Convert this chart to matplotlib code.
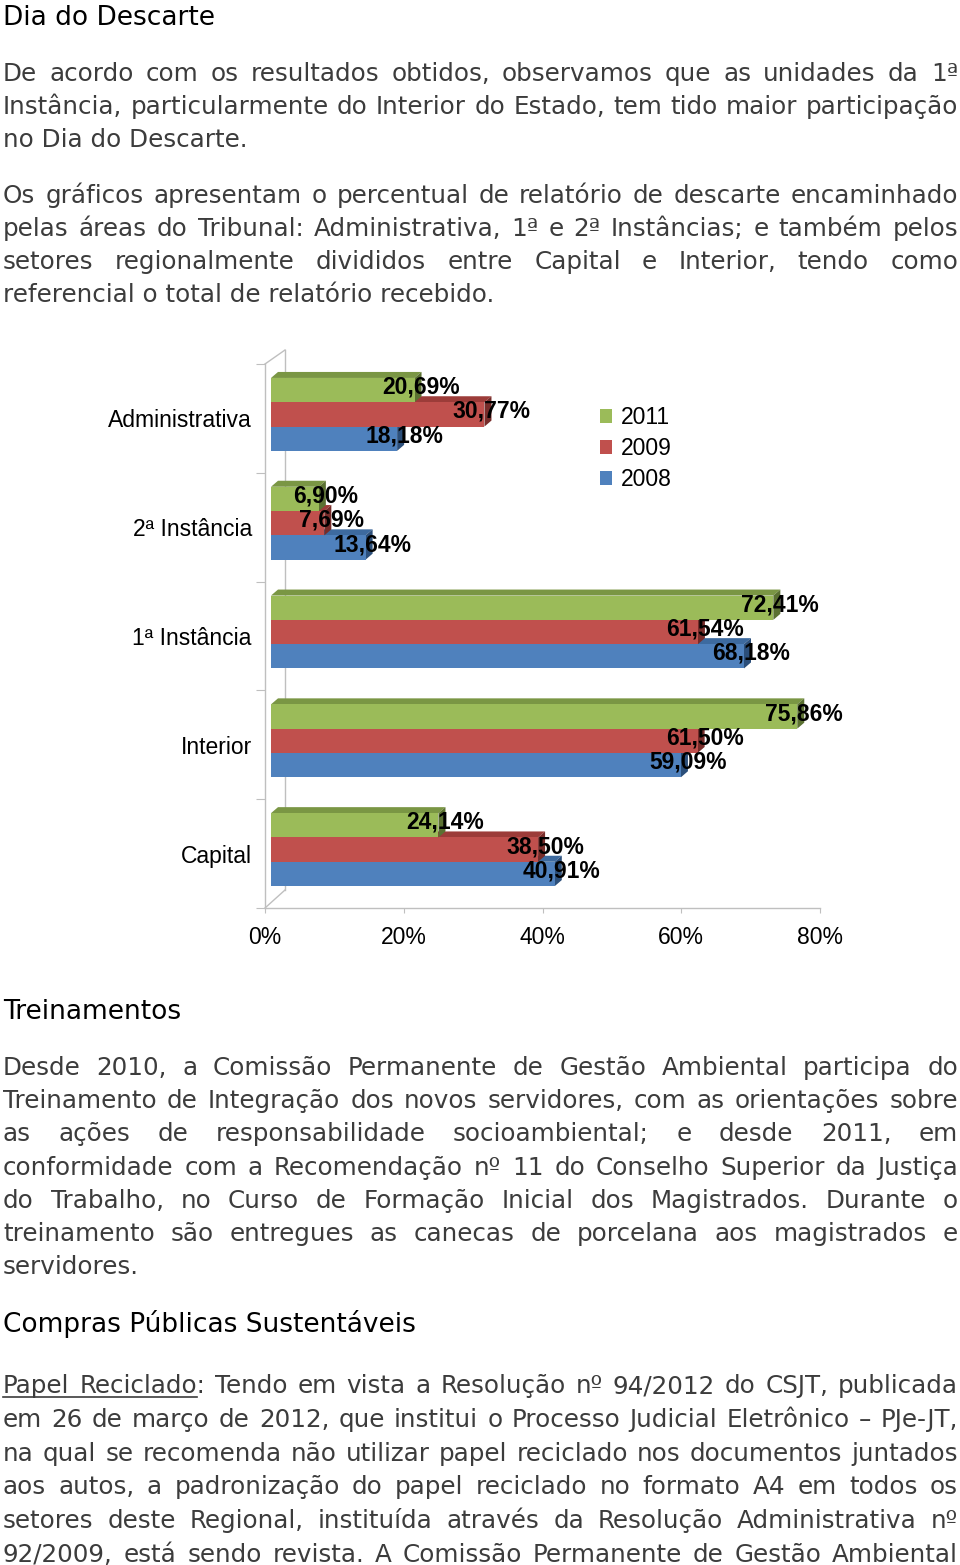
import matplotlib
matplotlib.use('Agg')
import matplotlib.pyplot as plt
from matplotlib.patches import Polygon, Patch

# chart data
categories = ['Administrativa', '2ª Instância', '1ª Instância', 'Interior', 'Capital']
years = ['2011', '2009', '2008']
v2011 = [20.69, 6.90, 72.41, 75.86, 24.14]
v2009 = [30.77, 7.69, 61.54, 61.50, 38.50]
v2008 = [18.18, 13.64, 68.18, 59.09, 40.91]
xticks = [0, 20, 40, 60, 80]

# page text
title1 = 'Dia do Descarte'
par1 = ['De acordo com os resultados obtidos, observamos que as unidades da 1ª',
        'Instância, particularmente do Interior do Estado, tem tido maior participação',
        'no Dia do Descarte.']
par2 = ['Os gráficos apresentam o percentual de relatório de descarte encaminhado',
        'pelas áreas do Tribunal: Administrativa, 1ª e 2ª Instâncias; e também pelos',
        'setores regionalmente divididos entre Capital e Interior, tendo como',
        'referencial o total de relatório recebido.']
title2 = 'Treinamentos'
par3 = ['Desde 2010, a Comissão Permanente de Gestão Ambiental participa do',
        'Treinamento de Integração dos novos servidores, com as orientações sobre',
        'as ações de responsabilidade socioambiental; e desde 2011, em',
        'conformidade com a Recomendação nº 11 do Conselho Superior da Justiça',
        'do Trabalho, no Curso de Formação Inicial dos Magistrados. Durante o',
        'treinamento são entregues as canecas de porcelana aos magistrados e',
        'servidores.']
title3 = 'Compras Públicas Sustentáveis'
par4 = ['Papel Reciclado: Tendo em vista a Resolução nº 94/2012 do CSJT, publicada',
        'em 26 de março de 2012, que institui o Processo Judicial Eletrônico – PJe-JT,',
        'na qual se recomenda não utilizar papel reciclado nos documentos juntados',
        'aos autos, a padronização do papel reciclado no formato A4 em todos os',
        'setores deste Regional, instituída através da Resolução Administrativa nº',
        '92/2009, está sendo revista. A Comissão Permanente de Gestão Ambiental']

W, H = 960, 1565
fig = plt.figure(figsize=(W / 100, H / 100), dpi=100)
page = fig.add_axes([0, 0, 1, 1])
page.set_xlim(0, W)
page.set_ylim(H, 0)
page.axis('off')
renderer = fig.canvas.get_renderer()

LEFT, RIGHT = 3, 958
BODY = 17.75
HEAD = 19
GREY = '#3c3c3c'


def width_of(s, size):
    t = page.text(0, 0, s, fontsize=size, family='DejaVu Sans')
    w = t.get_window_extent(renderer).width
    t.remove()
    return w


def put_line(y, s, justify=True, size=BODY, color=GREY):
    words = s.split(' ')
    if not justify or len(words) == 1:
        page.text(LEFT, y, s, fontsize=size, family='DejaVu Sans', color=color, va='baseline')
        return [LEFT]
    widths = [width_of(w, size) for w in words]
    gap = (RIGHT - LEFT - sum(widths)) / (len(words) - 1)
    x = LEFT
    xs = []
    for w, wd in zip(words, widths):
        page.text(x, y, w, fontsize=size, family='DejaVu Sans', color=color, va='baseline')
        xs.append(x)
        x += wd + gap
    return xs


def put_par(y0, step, lines):
    for i, s in enumerate(lines):
        put_line(y0 + i * step, s, justify=(i < len(lines) - 1))


put_line(25, title1, justify=False, size=HEAD, color='black')
put_par(81, 33, par1)
put_par(203, 33, par2)
put_line(1019, title2, justify=False, size=HEAD, color='black')
put_par(1075, 33.2, par3)
put_line(1332, title3, justify=False, size=HEAD, color='black')
for i, s in enumerate(par4):
    xs = put_line(1393 + i * 33.8, s, justify=True)
    if i == 0:
        # underline "Papel Reciclado"
        u_end = xs[1] + width_of('Reciclado', BODY)
        page.plot([xs[0], u_end], [1396.5, 1396.5], color=GREY, lw=1.2)

# ---- chart ----
ax = fig.add_axes([265 / W, 1 - 908 / H, 555 / W, 544 / H])
ax.set_xlim(0, 80)
ax.set_ylim(-0.5, 4.5)
ax.patch.set_visible(False)

ux = 80 / 555.0
uy = 5 / 544.0
shift_x, shift_y = 6 * ux, 4 * uy
bar_h = 24.3 * uy
dx, dy = 7 * ux, 6 * uy
ypos = [4, 3, 2, 1, 0]

GRID = '#bfbfbf'
series = [
    (v2008, '#4f81bd', '#3d6a9f', '#2c4f7a', -bar_h),
    (v2009, '#c0504d', '#9c3c39', '#772c2a', 0.0),
    (v2011, '#9bbb59', '#7a9644', '#5b7132', bar_h),
]

# back wall / floor edges
ax.plot([0, 20 * ux], [4.5, 4.5 + 14 * uy], color=GRID, lw=1, clip_on=False, zorder=1)
ax.plot([0, 20 * ux], [-0.5, -0.5 + 18 * uy], color=GRID, lw=1, clip_on=False, zorder=1)
ax.plot([20 * ux, 20 * ux], [-0.5 + 18 * uy, 4.5 + 14 * uy], color=GRID, lw=1, clip_on=False, zorder=1)

for k, (vals, col, topc, sidec, off) in enumerate(series):
    z = 2 + k
    ys = [p + shift_y + off for p in ypos]
    for yc, v in zip(ys, vals):
        x0, x1 = shift_x, shift_x + v
        y0, y1 = yc - bar_h / 2, yc + bar_h / 2
        ax.add_patch(Polygon([(x0, y1), (x1, y1), (x1 + dx, y1 + dy), (x0 + dx, y1 + dy)],
                             closed=True, facecolor=topc, edgecolor='none', zorder=z, clip_on=False))
        ax.add_patch(Polygon([(x1, y0), (x1 + dx, y0 + dy), (x1 + dx, y1 + dy), (x1, y1)],
                             closed=True, facecolor=sidec, edgecolor='none', zorder=z, clip_on=False))
        ax.text(x1 + dx, yc + 3 * uy, f'{v:.2f}'.replace('.', ',') + '%',
                ha='center', va='center', fontsize=16.5, fontweight='bold',
                family='Liberation Sans', color='black', zorder=10)
    ax.barh(ys, vals, left=shift_x, height=bar_h, color=col, zorder=z + 0.5, clip_on=False)

for s in ['top', 'right']:
    ax.spines[s].set_visible(False)
for s in ['left', 'bottom']:
    ax.spines[s].set_color(GRID)
    ax.spines[s].set_linewidth(1)

ax.set_xticks(xticks)
ax.set_xticklabels([f'{t}%' for t in xticks], fontsize=16.5, family='Liberation Sans')
ax.tick_params(axis='x', length=3.6, color=GRID, pad=9)

ax.set_yticks([i - 0.5 for i in range(6)])
ax.set_yticklabels([])
ax.tick_params(axis='y', which='major', length=6.5, color=GRID)
ax.set_yticks(ypos, minor=True)
ax.set_yticklabels(categories, minor=True, fontsize=16.5, family='Liberation Sans')
ax.tick_params(axis='y', which='minor', length=0, pad=9.5)

handles = [Patch(facecolor=c) for c in ['#9bbb59', '#c0504d', '#4f81bd']]
fig.legend(handles, years, loc='upper left', bbox_to_anchor=(600 / W, 1 - 406 / H),
           frameon=False, prop={'family': 'Liberation Sans', 'size': 16.5},
           handlelength=0.52, handleheight=0.52, handletextpad=0.4,
           labelspacing=0.35, borderpad=0, borderaxespad=0)

fig.savefig('out.png', dpi=100)
